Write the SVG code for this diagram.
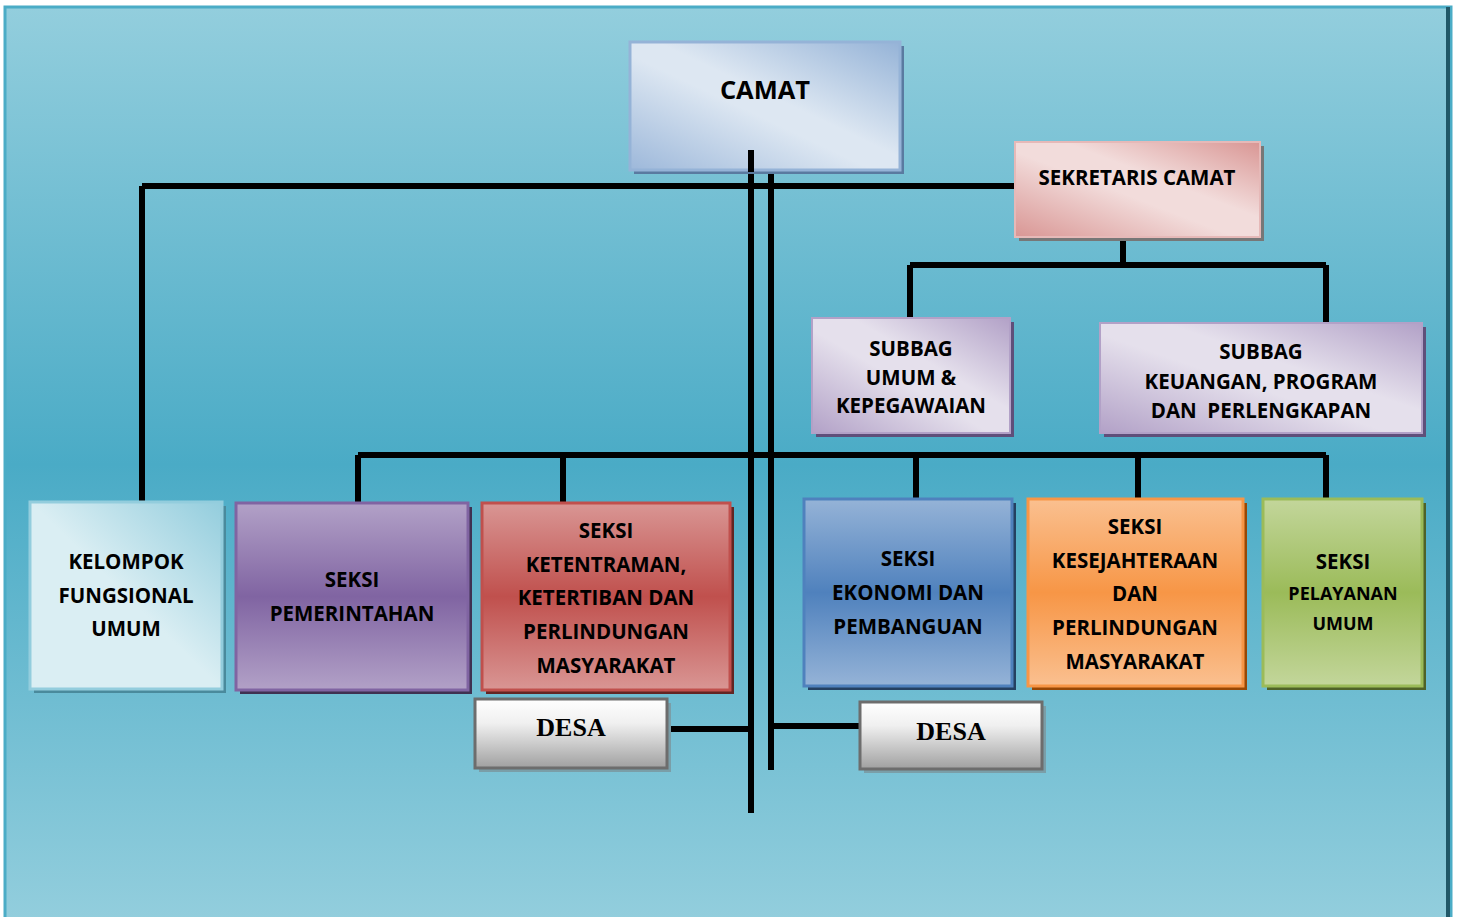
<svg xmlns="http://www.w3.org/2000/svg" width="1457" height="917" viewBox="0 0 1457 917">
<defs>
<linearGradient id="bg" x1="0" y1="0" x2="0" y2="1">
<stop offset="0" stop-color="#93cedd"/><stop offset="0.5" stop-color="#4aabc6"/><stop offset="1" stop-color="#93cedd"/>
</linearGradient>
<linearGradient id="gCamat2" x1="0" y1="1" x2="1" y2="0">
<stop offset="0" stop-color="#9db8da"/><stop offset="0.45" stop-color="#dde7f2"/><stop offset="0.55" stop-color="#dde7f2"/><stop offset="1" stop-color="#95b3d7"/>
</linearGradient>
<linearGradient id="gSek" x1="0" y1="1" x2="1" y2="0">
<stop offset="0" stop-color="#d99694"/><stop offset="0.45" stop-color="#f2dcdb"/><stop offset="0.6" stop-color="#f2dcdb"/><stop offset="1" stop-color="#d99694"/>
</linearGradient>
<linearGradient id="gSub" x1="0" y1="1" x2="1" y2="0">
<stop offset="0" stop-color="#b2a1c7"/><stop offset="0.45" stop-color="#e5e0ec"/><stop offset="0.6" stop-color="#e5e0ec"/><stop offset="1" stop-color="#b2a1c7"/>
</linearGradient>
<linearGradient id="gKel" x1="1" y1="0" x2="0" y2="1">
<stop offset="0" stop-color="#93cddd"/><stop offset="0.5" stop-color="#daeef3"/><stop offset="1" stop-color="#daeef3"/>
</linearGradient>
<linearGradient id="gPur" x1="0" y1="0" x2="0" y2="1">
<stop offset="0" stop-color="#b2a1c7"/><stop offset="0.5" stop-color="#8064a2"/><stop offset="1" stop-color="#b2a1c7"/>
</linearGradient>
<linearGradient id="gRed" x1="0" y1="0" x2="0" y2="1">
<stop offset="0" stop-color="#d99694"/><stop offset="0.5" stop-color="#c0504d"/><stop offset="1" stop-color="#d99694"/>
</linearGradient>
<linearGradient id="gBlu" x1="0" y1="0" x2="0" y2="1">
<stop offset="0" stop-color="#95b3d7"/><stop offset="0.5" stop-color="#4f81bd"/><stop offset="1" stop-color="#95b3d7"/>
</linearGradient>
<linearGradient id="gOra" x1="0" y1="0" x2="0" y2="1">
<stop offset="0" stop-color="#fac090"/><stop offset="0.5" stop-color="#f79646"/><stop offset="1" stop-color="#fac090"/>
</linearGradient>
<linearGradient id="gGrn" x1="0" y1="0" x2="0" y2="1">
<stop offset="0" stop-color="#c3d69b"/><stop offset="0.5" stop-color="#9bbb59"/><stop offset="1" stop-color="#c3d69b"/>
</linearGradient>
<linearGradient id="gGray" x1="0" y1="0" x2="0" y2="1">
<stop offset="0" stop-color="#ffffff"/><stop offset="0.35" stop-color="#f0f0f0"/><stop offset="1" stop-color="#a0a0a0"/>
</linearGradient>
</defs>
<style>
.t{font-family:"Open Sans","Liberation Sans",sans-serif;font-weight:bold;fill:#000;text-anchor:middle;dominant-baseline:central;font-size:20.5px}
.s{font-size:18px}
.d{font-family:"Liberation Serif","Times New Roman",serif;font-weight:bold;fill:#000;text-anchor:middle;dominant-baseline:central;font-size:26px}
.ln{stroke:#000;stroke-width:6;fill:none}
</style>
<rect x="5" y="7" width="1446" height="915" fill="url(#bg)" stroke="#4bacc6" stroke-width="3"/>
<rect x="1446" y="7" width="4" height="915" fill="#215868"/>

<g id="connectors">
<path class="ln" d="M751 150V813M771 172V770M142 186H1015M142 186V502M1123 237V265M910 265H1326M910 265V318M1326 265V323M358 455H1326M358 455V503M563 455V503M916 455V499M1138 455V499M1326 455V498M667 729H751M771 726H860"/>
</g>

<g id="camat">
<rect x="634" y="46" width="270" height="128" fill="#5a7aa0"/>
<rect x="630" y="42" width="270" height="128" fill="url(#gCamat2)" stroke="#95b3d7" stroke-width="3"/>
<path class="ln" d="M751 150V172"/>
<text class="t" x="765" y="89" style="font-size:25.5px">CAMAT</text>
</g>

<g id="sekretaris">
<rect x="1019" y="146" width="245" height="95" fill="#777"/>
<rect x="1015" y="142" width="245" height="95" fill="url(#gSek)" stroke="#e6b9b8" stroke-width="2"/>
<text class="t" x="1137" y="177">SEKRETARIS CAMAT</text>
</g>

<g id="subbag-umum">
<rect x="816" y="322" width="198" height="115" fill="#5f4f7a"/>
<rect x="812" y="318" width="198" height="115" fill="url(#gSub)" stroke="#b2a1c7" stroke-width="2"/>
<text class="t" x="911" y="348">SUBBAG</text>
<text class="t" x="911" y="377">UMUM &amp;</text>
<text class="t" x="911" y="405">KEPEGAWAIAN</text>
</g>

<g id="subbag-keuangan">
<rect x="1104" y="327" width="322" height="110" fill="#5f4f7a"/>
<rect x="1100" y="323" width="322" height="110" fill="url(#gSub)" stroke="#b2a1c7" stroke-width="2"/>
<text class="t" x="1261" y="351">SUBBAG</text>
<text class="t" x="1261" y="381">KEUANGAN, PROGRAM</text>
<text class="t" x="1261" y="410" xml:space="preserve">DAN  PERLENGKAPAN</text>
</g>

<g id="kelompok">
<rect x="34" y="506" width="192" height="187" fill="#4a8a9c"/>
<rect x="30" y="502" width="192" height="187" fill="url(#gKel)" stroke="#93cddd" stroke-width="3"/>
<text class="t" x="126" y="561">KELOMPOK</text>
<text class="t" x="126" y="595">FUNGSIONAL</text>
<text class="t" x="126" y="628">UMUM</text>
</g>

<g id="seksi-pemerintahan">
<rect x="240" y="507" width="232" height="187" fill="#3f3151"/>
<rect x="236" y="503" width="232" height="187" fill="url(#gPur)" stroke="#8064a2" stroke-width="3"/>
<text class="t" x="352" y="579">SEKSI</text>
<text class="t" x="352" y="613">PEMERINTAHAN</text>
</g>

<g id="seksi-ketentraman">
<rect x="486" y="507" width="248" height="187" fill="#632523"/>
<rect x="482" y="503" width="248" height="187" fill="url(#gRed)" stroke="#c0504d" stroke-width="3"/>
<text class="t" x="606" y="530">SEKSI</text>
<text class="t" x="606" y="564">KETENTRAMAN,</text>
<text class="t" x="606" y="597">KETERTIBAN DAN</text>
<text class="t" x="606" y="631">PERLINDUNGAN</text>
<text class="t" x="606" y="665">MASYARAKAT</text>
</g>

<g id="desa-1">
<rect x="479" y="703" width="192" height="69" fill="#7a9ea8"/>
<rect x="475" y="699" width="192" height="69" fill="url(#gGray)" stroke="#6d6d6d" stroke-width="3"/>
<text class="d" x="571" y="727">DESA</text>
</g>

<g id="seksi-ekonomi">
<rect x="808" y="503" width="208" height="187" fill="#244061"/>
<rect x="804" y="499" width="208" height="187" fill="url(#gBlu)" stroke="#4f81bd" stroke-width="3"/>
<text class="t" x="908" y="558">SEKSI</text>
<text class="t" x="908" y="592">EKONOMI DAN</text>
<text class="t" x="908" y="626">PEMBANGUAN</text>
</g>

<g id="seksi-kesejahteraan">
<rect x="1032" y="503" width="215" height="187" fill="#974806"/>
<rect x="1028" y="499" width="215" height="187" fill="url(#gOra)" stroke="#f79646" stroke-width="3"/>
<text class="t" x="1135" y="526">SEKSI</text>
<text class="t" x="1135" y="560">KESEJAHTERAAN</text>
<text class="t" x="1135" y="593">DAN</text>
<text class="t" x="1135" y="627">PERLINDUNGAN</text>
<text class="t" x="1135" y="661">MASYARAKAT</text>
</g>

<g id="seksi-pelayanan">
<rect x="1267" y="503" width="159" height="187" fill="#4f6228"/>
<rect x="1263" y="499" width="159" height="187" fill="url(#gGrn)" stroke="#9bbb59" stroke-width="3"/>
<text class="t" x="1343" y="561">SEKSI</text>
<text class="t s" x="1343" y="593">PELAYANAN</text>
<text class="t s" x="1343" y="623">UMUM</text>
</g>

<g id="desa-2">
<rect x="864" y="706" width="182" height="67" fill="#7a9ea8"/>
<rect x="860" y="702" width="182" height="67" fill="url(#gGray)" stroke="#6d6d6d" stroke-width="3"/>
<text class="d" x="951" y="731">DESA</text>
</g>
</svg>
